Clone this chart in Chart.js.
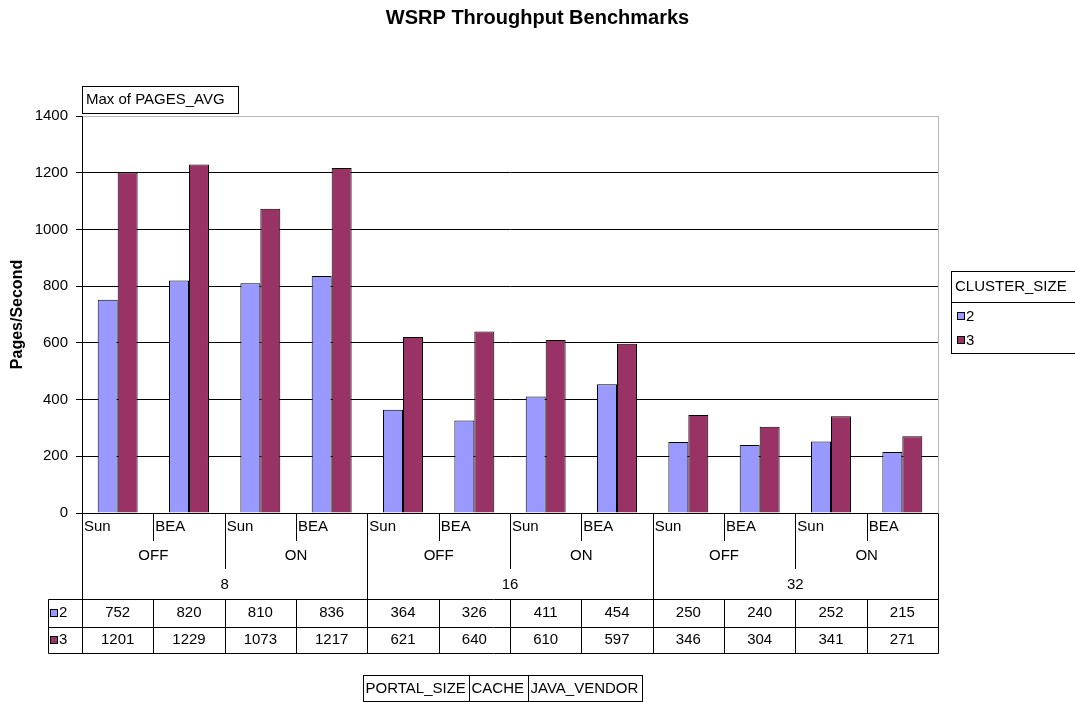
<!DOCTYPE html>
<html>
<head>
<meta charset="utf-8">
<title>WSRP Throughput Benchmarks</title>
<script src="https://cdn.jsdelivr.net/npm/chart.js@4"></script>
<style>
  html, body { margin: 0; padding: 0; background: #fff; }
  #wrap { width: 1075px; height: 702px; }
</style>
</head>
<body>
<div id="wrap"><canvas id="benchChart"></canvas></div>
<script>
const portalSizes = ['8', '16', '32'];
const cacheModes = ['OFF', 'ON'];
const javaVendors = ['Sun', 'BEA'];
const clusterSizes = ['2', '3'];
const cluster2 = [752, 820, 810, 836, 364, 326, 411, 454, 250, 240, 252, 215];
const cluster3 = [1201, 1229, 1073, 1217, 621, 640, 610, 597, 346, 304, 341, 271];
const yMax = 1400;
const yStep = 200;
const fieldButtons = ['PORTAL_SIZE', 'CACHE', 'JAVA_VENDOR'];

const colors = ['#9999FF', '#993366'];
const FAMILY = '"Liberation Sans", Arial, sans-serif';
const FONT = '15px ' + FAMILY;

// one category per portal/cache/vendor combination
const labels = [];
portalSizes.forEach(p => cacheModes.forEach(c => javaVendors.forEach(v => labels.push(p + ' ' + c + ' ' + v))));

function line(ctx, x1, y1, x2, y2) {
    ctx.beginPath();
    ctx.moveTo(x1, y1);
    ctx.lineTo(x2, y2);
    ctx.stroke();
}

// draws the pieces excel puts around the plot: field buttons, legend, category rows and data table
const pivotDecor = {
    id: 'pivotDecor',
    afterDraw(chart) {
        const ctx = chart.ctx;
        const area = chart.chartArea;
        const xs = chart.scales.x;
        const n = labels.length;
        const w = (area.right - area.left) / n;
        const edge = i => area.left + i * w;
        const L = Math.round(area.left) + 0.5;
        const R = Math.round(area.right) + 0.5;
        const B = Math.round(area.bottom) + 0.5;

        ctx.save();
        ctx.font = FONT;
        ctx.fillStyle = '#000';
        ctx.textBaseline = 'middle';

        // dotted top / right border of the plot
        ctx.strokeStyle = '#707070';
        ctx.lineWidth = 1;
        ctx.setLineDash([1, 1]);
        line(ctx, L, Math.round(area.top) + 0.5, R, Math.round(area.top) + 0.5);
        line(ctx, R, Math.round(area.top) + 0.5, R, B);
        ctx.setLineDash([]);
        ctx.strokeStyle = '#000';

        // data field button
        ctx.fillStyle = '#fff';
        ctx.fillRect(82.5, 86.5, 156, 27);
        ctx.strokeRect(82.5, 86.5, 156, 27);
        ctx.fillStyle = '#000';
        ctx.textAlign = 'left';
        ctx.fillText('Max of PAGES_AVG', 86, 100);

        // legend box
        const lx = 951.5, ly = 271.5;
        ctx.strokeRect(lx, ly, 140, 82);
        line(ctx, lx, 302.5, 1075, 302.5);
        ctx.fillText('CLUSTER_SIZE', 955, 287);
        chart.data.datasets.forEach((ds, k) => {
            const yy = 317 + k * 24;
            ctx.fillStyle = ds.backgroundColor;
            ctx.fillRect(957.5, yy - 4.5, 7, 7);
            ctx.strokeRect(957.5, yy - 4.5, 7, 7);
            ctx.fillStyle = '#000';
            ctx.fillText(ds.label, 966, yy);
        });

        // category label rows
        const rowV = 527, rowC = 556, rowP = 585;
        const tTop = 599.5, tMid = 627.5, tBot = 653.5;
        const perPortal = cacheModes.length * javaVendors.length;
        for (let i = 0; i < n; i++) {
            const v = javaVendors[i % javaVendors.length];
            ctx.textAlign = 'left';
            ctx.fillText(v, edge(i) + 2, rowV);
        }
        for (let i = 0; i < n; i += javaVendors.length) {
            const c = cacheModes[(i / javaVendors.length) % cacheModes.length];
            ctx.textAlign = 'center';
            ctx.fillText(c, (edge(i) + edge(i + javaVendors.length)) / 2, rowC);
        }
        for (let i = 0; i < n; i += perPortal) {
            ctx.textAlign = 'center';
            ctx.fillText(portalSizes[i / perPortal], (edge(i) + edge(i + perPortal)) / 2, rowP);
        }
        for (let i = 1; i < n; i++) {
            const x = Math.round(edge(i)) + 0.5;
            let bottom = 541;
            if (i % perPortal === 0) bottom = tTop;
            else if (i % javaVendors.length === 0) bottom = 569;
            line(ctx, x, B, x, bottom);
            line(ctx, x, tTop, x, tBot);
        }
        line(ctx, L, B, L, tBot);
        line(ctx, R, B, R, tBot);

        // data table
        const tl = 48.5;
        line(ctx, tl, tTop, R, tTop);
        line(ctx, tl, tMid, R, tMid);
        line(ctx, tl, tBot, R, tBot);
        line(ctx, tl, tTop, tl, tBot);
        chart.data.datasets.forEach((ds, k) => {
            const yy = k === 0 ? 613 : 640;
            ctx.fillStyle = ds.backgroundColor;
            ctx.fillRect(50.5, yy - 3.5, 7, 7);
            ctx.strokeRect(50.5, yy - 3.5, 7, 7);
            ctx.fillStyle = '#000';
            ctx.textAlign = 'left';
            ctx.fillText(ds.label, 59, yy);
            ctx.textAlign = 'center';
            ds.data.forEach((val, i) => {
                ctx.fillText(String(val), xs.getPixelForValue(i), yy);
            });
        });

        // row field buttons at the bottom
        let bx = 363.5;
        ctx.textAlign = 'left';
        fieldButtons.forEach(name => {
            const bw = Math.round(ctx.measureText(name).width) + 6;
            ctx.strokeRect(bx, 675.5, bw, 26);
            ctx.fillText(name, bx + 2, 689);
            bx += bw;
        });

        ctx.restore();
    }
};

const ctx = document.getElementById('benchChart').getContext('2d');
new Chart(ctx, {
    type: 'bar',
    data: {
        labels: labels,
        datasets: [{
            label: clusterSizes[0],
            data: cluster2,
            backgroundColor: colors[0],
            borderColor: '#000',
            borderWidth: 1,
            categoryPercentage: 0.56,
            barPercentage: 1
        }, {
            label: clusterSizes[1],
            data: cluster3,
            backgroundColor: colors[1],
            borderColor: '#000',
            borderWidth: 1,
            categoryPercentage: 0.56,
            barPercentage: 1
        }]
    },
    options: {
        responsive: true,
        maintainAspectRatio: false,
        animation: false,
        layout: {
            padding: { left: 0, right: 0, top: 0, bottom: 189 }
        },
        scales: {
            x: {
                display: false
            },
            y: {
                min: 0,
                max: yMax,
                afterFit(scale) { scale.width = 82; },
                ticks: {
                    stepSize: yStep,
                    padding: 8,
                    color: '#000',
                    callback: v => String(v),
                    font: { family: FAMILY, size: 15 }
                },
                grid: {
                    color: c => (c.tick && c.tick.value === yMax) ? 'rgba(0,0,0,0)' : '#000',
                    tickColor: '#000',
                    tickLength: 6,
                    lineWidth: 1
                },
                border: { display: true, color: '#000' },
                title: {
                    display: true,
                    text: 'Pages/Second',
                    color: '#000',
                    padding: { top: 8, bottom: 0 },
                    font: { family: FAMILY, size: 16, weight: 'bold' }
                }
            },
            // empty right axis that just reserves the legend column
            legendSpace: {
                axis: 'y',
                position: 'right',
                min: 0,
                max: yMax,
                afterFit(scale) { scale.width = 137; },
                ticks: { display: false },
                grid: { display: false, drawTicks: false },
                border: { display: false }
            }
        },
        plugins: {
            legend: { display: false },
            tooltip: { enabled: false },
            title: {
                display: true,
                text: 'WSRP Throughput Benchmarks',
                color: '#000',
                padding: { top: 6, bottom: 86 },
                font: { family: FAMILY, size: 20, weight: 'bold' }
            }
        }
    },
    plugins: [pivotDecor]
});
</script>
</body>
</html>
